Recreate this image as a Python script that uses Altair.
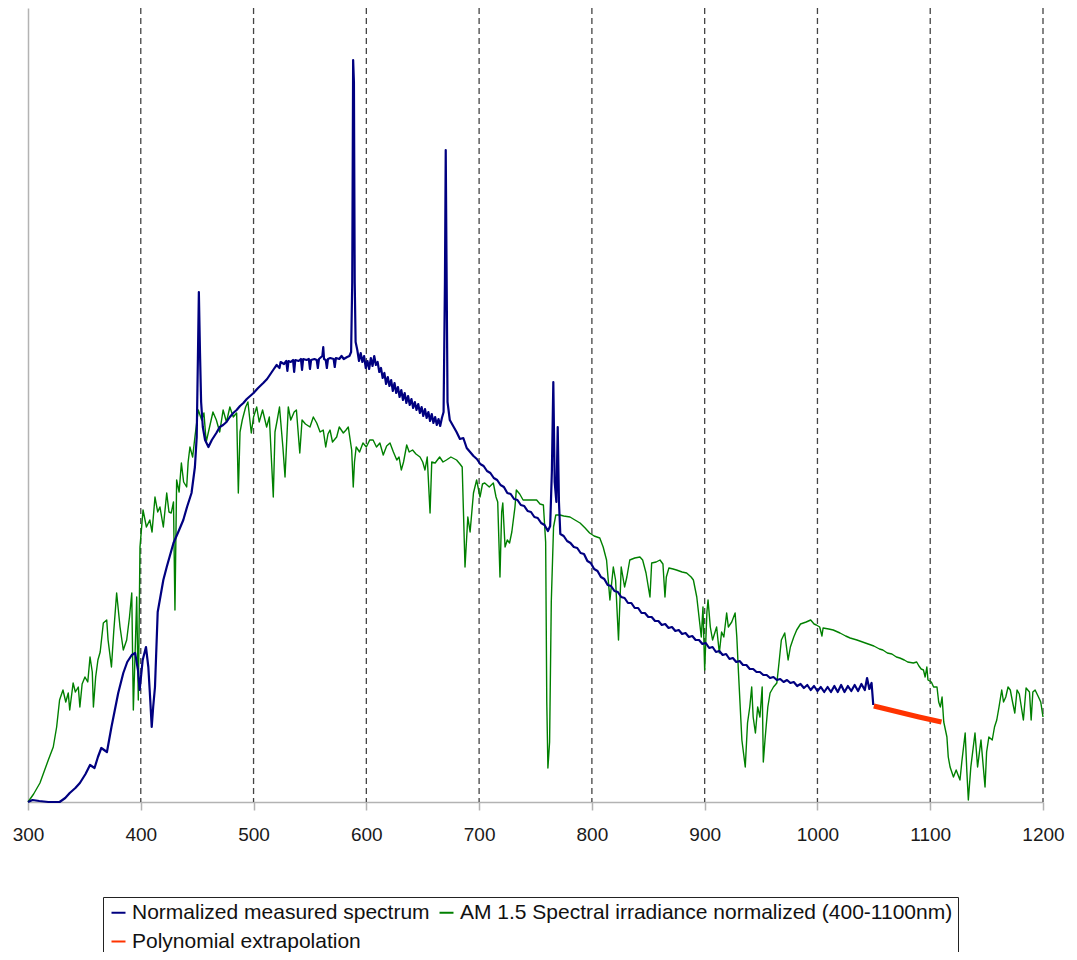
import altair as alt
import pandas as pd

# ---- data (wavelength in nm, relative intensity in arbitrary units) ----
measured_nm = [300, 304, 310, 318, 328, 333, 337, 342, 346, 351, 355, 359, 362, 365, 370, 374, 377, 380,
               384.5, 388, 392, 395, 397.5, 399, 401.7, 404.6, 406.7, 408.5, 409.7, 411, 412.6, 415, 420,
               423, 429, 434, 437.7, 441, 445, 448, 449.6, 450.6, 451.5, 452.5, 453.5, 455, 457, 460, 463,
               467, 470, 473, 476, 479, 482, 485, 488, 491, 494, 497, 500, 504, 508.6, 512, 515, 518, 520.5,
               523, 524, 527, 529, 530, 531, 533, 535, 536, 537, 540, 542, 543, 544, 547, 549, 550, 551, 554,
               556, 557, 558, 561, 561.8, 562.5, 564, 565, 566, 568, 571, 572, 573, 576, 578, 580, 583, 585,
               586.5, 587.5, 588.3, 589, 589.7, 590.5,
               592, 593.5, 595, 596.5, 598, 599.5, 601, 602.5, 604, 605.5, 607, 608.5, 610, 611.5, 613, 614.5,
               616, 617.5, 619, 620.5, 622, 623.5, 625, 626.5, 628, 629.5, 631, 632.5, 634, 635.5, 637, 638.5,
               640, 641.5, 643, 644.5, 646, 647.5, 649, 650.5, 652, 653.5, 655, 656.5, 658, 659.5, 661, 662.5,
               664, 665.5, 667, 668.5,
               669.7, 670.4, 671.1, 672, 674, 677, 680, 683, 686, 689, 692, 695, 698, 701, 704, 707, 710, 713,
               716, 719, 722, 725, 728, 731, 734, 737, 740, 743, 746, 749, 752, 755, 758, 761, 763, 764.5,
               765.8, 767, 768.5, 769.7, 770.8, 772, 775, 778, 781, 784, 787, 790, 793, 796, 799, 802, 805,
               808, 811, 814, 817, 820, 823, 826, 829, 832, 835, 838, 841, 844, 847, 850, 853, 856, 859, 862,
               865, 868, 871, 874, 877, 880, 883, 886, 889, 892, 895, 898, 901, 904, 907, 910, 913, 916, 919,
               922, 925, 928, 931, 934, 937, 940, 943, 946, 949, 952, 955, 958, 961, 964, 967, 970, 973, 976,
               979, 982, 985, 988, 991, 994, 997, 1000, 1003, 1006, 1009, 1012, 1015, 1018, 1021, 1024, 1027,
               1030, 1033, 1036, 1039, 1042, 1044, 1046, 1048, 1049.5]
measured_val = [0, 2, 1, 0, 0, 4, 9, 14, 19, 28, 37, 34, 45, 54, 50, 75, 92, 109,
                129, 140, 147, 149, 132, 112, 142, 155, 135, 100, 75, 95, 115, 190, 222,
                235, 259, 272, 282, 295, 309, 335, 365, 440, 510, 450, 400, 375, 362, 355, 362,
                369, 375, 377, 380, 385, 389, 392, 396, 399, 403, 406, 409, 414, 419, 423, 428, 433, 437,
                434, 440, 438, 441, 431, 441, 440, 442, 430, 442, 441, 443, 432, 443, 442, 443, 433, 442, 443,
                442, 434, 443, 446, 455, 443, 442, 434, 443, 444, 443, 435, 444, 443, 446, 443, 445, 446,
                450, 520, 742, 720, 520, 460,
                452, 441, 449, 440, 446, 434, 441, 433, 444, 436, 446, 437, 440, 430, 434, 424,
                429, 418, 425, 416, 422, 411, 419, 409, 415, 405, 412, 402, 409, 399, 406, 397,
                403, 394, 400, 392, 398, 389, 395, 386, 393, 384, 390, 381, 388, 379, 385, 377,
                383, 376, 384, 390,
                520, 652, 540, 400, 382, 376, 370, 363, 364, 354, 350, 346, 343, 338, 336, 331, 329, 324,
                322, 317, 315, 309, 308, 303, 302, 297, 296, 291, 290, 285, 284, 279, 277, 271, 276, 330,
                420, 320, 300, 375, 300, 268, 266, 261, 259, 255, 254, 249, 248, 241, 239, 233, 231,
                225, 223, 217, 216, 211, 210, 205, 204, 199, 199, 194, 194, 189, 189, 185, 185, 181, 181, 177,
                178, 174, 175, 171, 172, 168, 169, 165, 166, 162, 162, 158, 159, 154, 155, 150, 151, 147, 148,
                143, 144, 140, 141, 137, 137, 133, 133, 130, 130, 127, 127, 124, 125, 122, 123, 120, 122, 119,
                120, 116, 118, 114, 117, 112, 116, 111, 115, 110, 115, 110, 116, 110, 117, 110, 116,
                111, 117, 111, 118, 112, 124, 113, 119, 97]

am15_nm = [300, 305, 310.6, 318, 322.4, 325.4, 328, 331, 333.5, 335.7, 337, 340, 342, 344.6, 346, 348, 350.5,
           353, 355, 357, 358, 360, 362, 364, 366.8, 369.8, 371, 374, 376, 378.6, 381.6, 384.5, 387.5, 390,
           392, 393.4, 395, 396.4, 397.8, 399.3, 402, 405, 408, 410, 412.6, 415, 417, 420, 423, 425, 427, 429,
           430.3, 431.8, 434, 436, 438, 440.7, 442, 443.6, 446, 448, 451, 454, 456, 458, 461, 464, 467, 470,
           473, 476, 479, 482, 485, 486.5, 488, 490, 493, 495, 498, 500, 502.8, 505, 508, 511.6, 514, 517.5,
           519, 521, 523, 526, 527.9, 530.8, 533, 536, 538, 541, 543, 546, 550, 553, 556, 559, 561.8, 564,
           566, 567.8, 570, 573.7, 576, 579.6, 582, 584, 587, 588.4, 589.5, 591, 594, 597, 600, 603, 606, 609,
           612, 615, 618, 621, 624, 627, 629, 631, 633, 635.8, 638, 641, 644, 647.6, 650, 652, 654, 656.5,
           658, 661, 665, 668, 671, 675, 680, 683, 685, 687.5, 690, 692, 695, 697.8, 700.8, 703, 705, 709,
           712.6, 715, 716.5, 718.5, 720, 721, 723, 725, 727, 729, 731.8, 733, 736, 739, 742, 746, 751, 754,
           757, 759, 760, 761, 762.5, 764, 766, 768, 771.7, 775, 780.6, 785, 789.5, 794, 798, 802, 807, 810,
           813, 816, 819, 821, 823.6, 826, 829, 831, 833.6, 838, 842.6, 845, 848, 851.5, 853, 857, 860.4,
           863, 864.8, 866, 868.3, 872, 875, 880, 884, 888, 890, 893, 897, 898.5, 900, 902, 903, 905, 907,
           910.6, 913, 915, 917, 919.5, 921, 924, 927, 928.5, 930, 933, 936, 938, 940, 941.7, 943, 945, 947,
           949, 951, 952, 953.5, 956, 958, 961, 964, 966, 968, 971, 974, 976, 979, 981.6, 985, 990, 994, 997,
           999, 1002, 1004, 1005, 1010, 1014, 1020, 1025, 1029, 1035, 1040, 1045, 1050, 1055, 1058, 1062,
           1066, 1070, 1073, 1077, 1080, 1085, 1088, 1090, 1092, 1094, 1095.5, 1097, 1098, 1101, 1103, 1106,
           1107.5, 1109, 1110.5, 1112, 1114.8, 1116, 1117.6, 1120.6, 1123, 1126.4, 1128, 1131, 1132.5,
           1133.8, 1136, 1139.7, 1142, 1145, 1148.6, 1150, 1152, 1155, 1157, 1159, 1161, 1163.4, 1165, 1167,
           1169, 1171, 1173, 1175, 1177, 1179, 1182.6, 1185, 1188, 1189.5, 1191, 1193, 1196, 1198, 1200]
am15_val = [0, 8, 19, 42, 55, 75, 102, 112, 100, 109, 92, 119, 110, 115, 95, 118, 125,
            120, 145, 130, 95, 125, 142, 150, 179, 182, 162, 135, 170, 209, 175, 152, 162, 185,
            209, 92, 150, 205, 102, 255, 292, 275, 282, 270, 305, 290, 295, 275, 309, 290, 289, 300,
            192, 322, 310, 339, 320, 315, 340, 355, 345, 365, 392, 382, 389, 360, 375, 390, 382, 370,
            392, 380, 395, 385, 389, 309, 370, 382, 395, 400, 369, 385, 395, 380, 392, 375, 385, 305,
            370, 382, 395, 355, 325, 395, 382, 390, 392, 349, 382, 378, 375, 385, 379, 370, 372, 355,
            368, 372, 360, 365, 375, 369, 372, 375, 352, 315, 340, 355, 350, 359, 355, 362, 362, 355,
            359, 347, 356, 359, 350, 342, 345, 332, 340, 357, 350, 352, 348, 345, 340, 332, 345, 289,
            340, 339, 345, 340, 342, 345, 342, 338, 335, 235, 285, 270, 309, 322, 305, 318, 319, 315,
            319, 305, 300, 225, 290, 299, 255, 262, 259, 270, 295, 312, 308, 302, 302, 302, 302, 298,
            297, 260, 100, 34, 60, 200, 275, 287, 287, 286, 285, 282, 279, 274, 269, 266, 264, 255,
            242, 202, 235, 222, 162, 235, 215, 225, 242, 244, 245, 242, 229, 205, 239, 240, 242,
            238, 205, 225, 234, 233, 232, 230, 229, 225, 222, 205, 165, 195, 132, 190, 202, 175, 162,
            175, 149, 170, 165, 189, 175, 180, 189, 165, 129, 62, 35, 79, 95, 115, 85, 69, 95,
            85, 115, 40, 62, 95, 109, 115, 119, 140, 162, 169, 142, 155, 165, 172, 178, 180, 182, 178,
            177, 175, 166, 174, 173, 172, 169, 166, 164, 162, 160, 158, 156, 153, 152, 149,
            148, 145, 144, 142, 140, 139, 140, 136, 133, 132, 125, 135, 122, 120, 115, 115,
            100, 95, 105, 80, 65, 45, 35, 25, 32, 22, 40, 69, 30,
            2, 35, 69, 35, 62, 15, 50, 65, 62, 75, 82, 95, 112, 100, 105,
            115, 112, 100, 89, 112, 108, 82, 114, 110, 82, 110, 112, 105, 100, 85]

poly_nm = [1050, 1070, 1090, 1110]
poly_val = [96, 90.5, 85, 80]

series_names = ["Normalized measured spectrum",
                "AM 1.5 Spectral irradiance normalized (400-1100nm)",
                "Polynomial extrapolation"]
series_colors = ["#000080", "#008000", "#ff3300"]

grid_nm = [400, 500, 600, 700, 800, 900, 1000, 1100, 1200]
tick_nm = [300, 400, 500, 600, 700, 800, 900, 1000, 1100, 1200]

# ---- tables ----
df_meas = pd.DataFrame({"nm": measured_nm, "val": measured_val, "series": series_names[0]})
df_am = pd.DataFrame({"nm": am15_nm, "val": am15_val, "series": series_names[1]})
df_poly = pd.DataFrame({"nm": poly_nm, "val": poly_val, "series": series_names[2]})
df_grid = pd.DataFrame({"nm": grid_nm})

W, H = 1015, 794

xscale = alt.Scale(domain=[300, 1200], nice=False, zero=False)
yscale = alt.Scale(domain=[0, 794], nice=False)
cscale = alt.Scale(domain=series_names, range=series_colors)

xaxis = alt.Axis(values=tick_nm, format="d", title=None, grid=False, labelFlush=False,
                 labelFont="Liberation Sans", labelFontSize=19, labelColor="#1a1a1a",
                 labelPadding=15, tickSize=8, tickColor="#b3b3b3", domainColor="#b3b3b3",
                 domainWidth=1.5, tickWidth=1.5)
yaxis = alt.Axis(title=None, labels=False, ticks=False, grid=False,
                 domainColor="#b3b3b3", domainWidth=1.5)

legend = alt.Legend(title=None, orient="none", legendX=75, legendY=889, columns=2,
                    direction="horizontal",
                    symbolType="stroke", symbolSize=196, symbolStrokeWidth=2,
                    labelFont="Liberation Sans", labelFontSize=21, labelColor="#111",
                    labelLimit=800, labelOffset=3,
                    strokeColor="#222", fillColor="white", padding=5,
                    rowPadding=7, columnPadding=5)

grid = alt.Chart(df_grid).mark_rule(color="#444", strokeDash=[6, 4], strokeWidth=1.3).encode(
    x=alt.X("nm:Q", scale=xscale, axis=xaxis)
)

def line(df, width):
    return alt.Chart(df).mark_line(strokeWidth=width, strokeJoin="round").encode(
        x=alt.X("nm:Q", scale=xscale, axis=xaxis),
        y=alt.Y("val:Q", scale=yscale, axis=yaxis),
        color=alt.Color("series:N", scale=cscale, legend=legend),
    )

chart = alt.layer(
    grid,
    line(df_am, 1.4),
    line(df_meas, 2.2),
    line(df_poly, 5),
).properties(
    width=W, height=H,
    autosize=alt.AutoSizeParams(type="none"),
    padding={"left": 20, "top": 0, "right": 24, "bottom": 150},
).configure_view(strokeWidth=0)

chart.save("out.html", embed_options={"renderer": "svg", "actions": False})
